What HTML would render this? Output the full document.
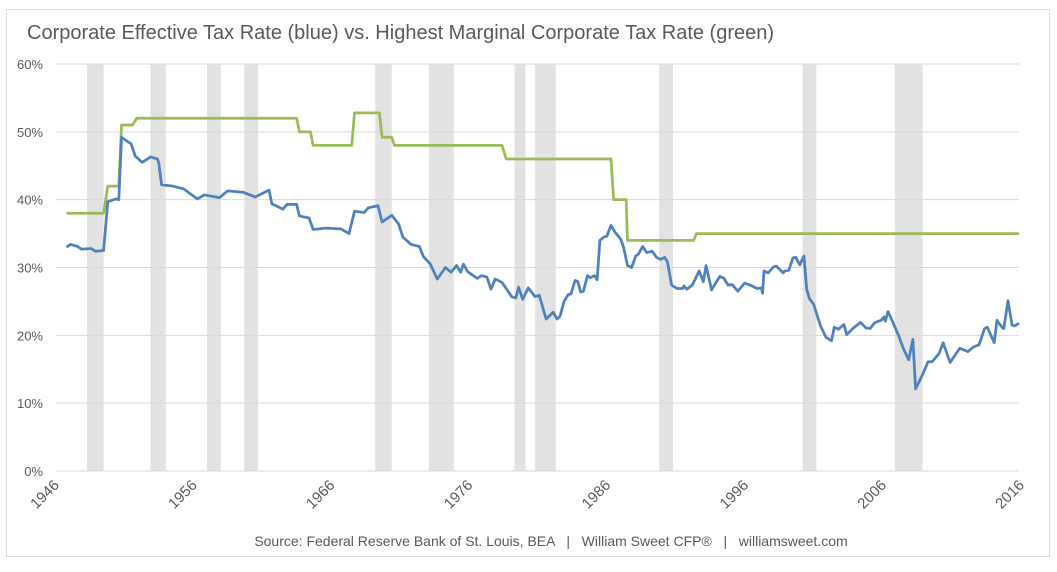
<!DOCTYPE html>
<html><head><meta charset="utf-8">
<style>
body{margin:0;background:#fff;width:1057px;height:567px;overflow:hidden;font-family:"Liberation Sans",Arial,sans-serif}
</style></head>
<body>
<svg id="chart" width="1057" height="567" xmlns="http://www.w3.org/2000/svg" font-family="Liberation Sans, Arial, sans-serif">
<rect x="6.5" y="9.5" width="1043" height="547" fill="#fff" stroke="#d9d9d9"/>
<text x="27" y="39" font-size="20" fill="#595959">Corporate Effective Tax Rate (blue) vs. Highest Marginal Corporate Tax Rate (green)</text>
<g id="bands"></g><g id="grid"></g><g id="series"></g><g id="axes"></g>
<text x="551" y="546" font-size="14" fill="#595959" text-anchor="middle" style="white-space:pre" xml:space="preserve">Source: Federal Reserve Bank of St. Louis, BEA   |   William Sweet CFP®   |   williamsweet.com</text>
</svg>
<script>
const yTicks=[0,10,20,30,40,50,60];
const xTicks=[1946,1956,1966,1976,1986,1996,2006,2016];
const recessionStarts=[1948.4,1953.0,1957.1,1959.8,1969.3,1973.2,1979.4,1980.9,1989.9,2000.3,2007.0];
const recessionEnds=[1949.6,1954.1,1958.1,1960.8,1970.5,1975.0,1980.2,1982.4,1990.9,2001.3,2009.0];
const effYears=[1946.9,1947.2,1947.7,1948.0,1948.7,1949.0,1949.6,1949.9,1950.5,1950.7,1950.9,1951.6,1951.9,1952.4,1953.0,1953.5,1953.6,1953.8,1954.6,1955.4,1956.4,1956.9,1958.0,1958.6,1959.7,1960.6,1961.6,1961.8,1962.6,1962.9,1963.6,1963.8,1964.5,1964.8,1965.7,1966.8,1967.4,1967.8,1968.5,1968.8,1969.5,1969.8,1970.5,1971.0,1971.3,1971.9,1972.5,1972.8,1973.3,1973.8,1974.4,1974.8,1975.2,1975.5,1975.7,1976.0,1976.7,1977.0,1977.4,1977.7,1978.0,1978.5,1979.2,1979.5,1979.7,1980.0,1980.4,1980.9,1981.2,1981.7,1982.0,1982.2,1982.5,1982.7,1983.0,1983.3,1983.5,1983.8,1984.0,1984.2,1984.4,1984.7,1984.9,1985.2,1985.4,1985.6,1985.9,1986.1,1986.4,1986.7,1987.1,1987.3,1987.6,1987.9,1988.2,1988.4,1988.7,1989.0,1989.4,1989.7,1990.0,1990.3,1990.5,1990.8,1991.2,1991.6,1991.7,1991.9,1992.3,1992.8,1993.1,1993.3,1993.7,1994.3,1994.6,1994.9,1995.2,1995.6,1996.1,1996.5,1997.0,1997.3,1997.4,1997.5,1997.8,1998.2,1998.4,1998.9,1999.0,1999.3,1999.6,1999.8,2000.1,2000.4,2000.6,2000.8,2001.1,2001.6,2002.0,2002.4,2002.6,2002.9,2003.3,2003.5,2004.0,2004.5,2004.9,2005.2,2005.5,2005.8,2006.0,2006.2,2006.3,2006.5,2006.9,2007.3,2007.6,2008.0,2008.3,2008.5,2009.0,2009.4,2009.7,2010.2,2010.5,2011.0,2011.7,2012.3,2012.7,2013.1,2013.5,2013.7,2014.2,2014.4,2014.8,2014.9,2015.2,2015.5,2015.7,2016.0];
const effRates=[33.0,33.4,33.1,32.7,32.8,32.4,32.5,39.7,40.1,40.0,49.2,48.2,46.4,45.5,46.3,46.0,45.4,42.2,42.0,41.6,40.1,40.7,40.3,41.3,41.1,40.4,41.4,39.4,38.6,39.3,39.3,37.6,37.3,35.6,35.8,35.7,35.0,38.3,38.1,38.8,39.1,36.7,37.7,36.4,34.5,33.4,33.1,31.6,30.5,28.3,30.0,29.3,30.3,29.3,30.5,29.4,28.4,28.8,28.6,26.8,28.3,27.8,25.7,25.5,27.1,25.3,27.0,25.7,25.9,22.4,23.0,23.4,22.4,22.8,25.0,26.0,26.1,28.1,27.9,26.4,26.5,28.8,28.5,28.8,28.2,34.0,34.5,34.6,36.2,35.2,34.2,33.1,30.3,30.0,31.7,32.0,33.1,32.2,32.4,31.5,31.2,31.5,30.8,27.4,26.9,26.9,27.3,26.8,27.4,29.5,27.9,30.3,26.7,28.7,28.4,27.4,27.5,26.5,27.7,27.4,26.9,27.0,26.2,29.5,29.2,30.1,30.2,29.2,29.5,29.6,31.4,31.5,30.4,31.7,26.8,25.4,24.6,21.4,19.7,19.2,21.2,20.9,21.6,20.1,21.1,21.9,21.1,21.0,21.8,22.1,22.2,22.7,22.1,23.5,21.7,19.8,18.1,16.4,19.4,12.1,14.2,16.1,16.1,17.3,18.9,16.0,18.1,17.6,18.3,18.6,21.0,21.2,18.9,22.2,21.1,21.0,25.1,21.5,21.4,21.8];
const margYears=[1946.9,1949.6,1949.9,1950.7,1950.9,1951.7,1952.0,1963.6,1963.8,1964.6,1964.8,1967.6,1967.8,1969.6,1969.8,1970.5,1970.7,1978.5,1978.8,1986.4,1986.6,1987.5,1987.6,1992.4,1992.6,2016.0];
const margRates=[38,38,42,42,51,51,52,52,50,50,48,48,52.8,52.8,49.2,49.2,48,48,46,46,40,40,34,34,35,35];

const NS='http://www.w3.org/2000/svg';
const X0=54,X1=1019,Y0=471,Y1=64;
function xs(yr){return X0+(yr-1946)/(2016-1946)*(X1-X0);}
function ys(v){return Y0-(v/60)*(Y0-Y1);}
function mk(tag,attrs,parent){const e=document.createElementNS(NS,tag);for(const k in attrs)e.setAttribute(k,attrs[k]);document.getElementById(parent).appendChild(e);return e;}

recessionStarts.forEach((s,i)=>{
  const r=mk('rect',{x:xs(s),y:Y1,width:xs(recessionEnds[i])-xs(s),height:Y0-Y1,fill:'#e2e2e2'},'bands');
  
  
});
yTicks.forEach(t=>{
  const l=mk('line',{x1:56,x2:X1,y1:ys(t),y2:ys(t),stroke:'#d9d9d9','stroke-width':1},'grid');
  
  
  const tx=mk('text',{x:43,y:ys(t)+5,'font-size':13,fill:'#595959','text-anchor':'end'},'axes');
  tx.textContent=t+'%';
  
  
});
xTicks.forEach(t=>{
  const x=xs(t)+6,y=486;
  const tx=mk('text',{x:x,y:y,'font-size':15,fill:'#595959','text-anchor':'end',transform:`rotate(-45 ${x} ${y})`},'axes');
  tx.textContent=t;
  
  
});
const gp=mk('polyline',{points:margYears.map((y,i)=>xs(y)+','+ys(margRates[i])).join(' '),fill:'none',stroke:'#9bbb59','stroke-width':2.75,'stroke-linejoin':'round'},'series');


const bp=mk('polyline',{points:effYears.map((y,i)=>xs(y)+','+ys(effRates[i])).join(' '),fill:'none',stroke:'#4f81bd','stroke-width':2.75,'stroke-linejoin':'round'},'series');


</script>
</body></html>
